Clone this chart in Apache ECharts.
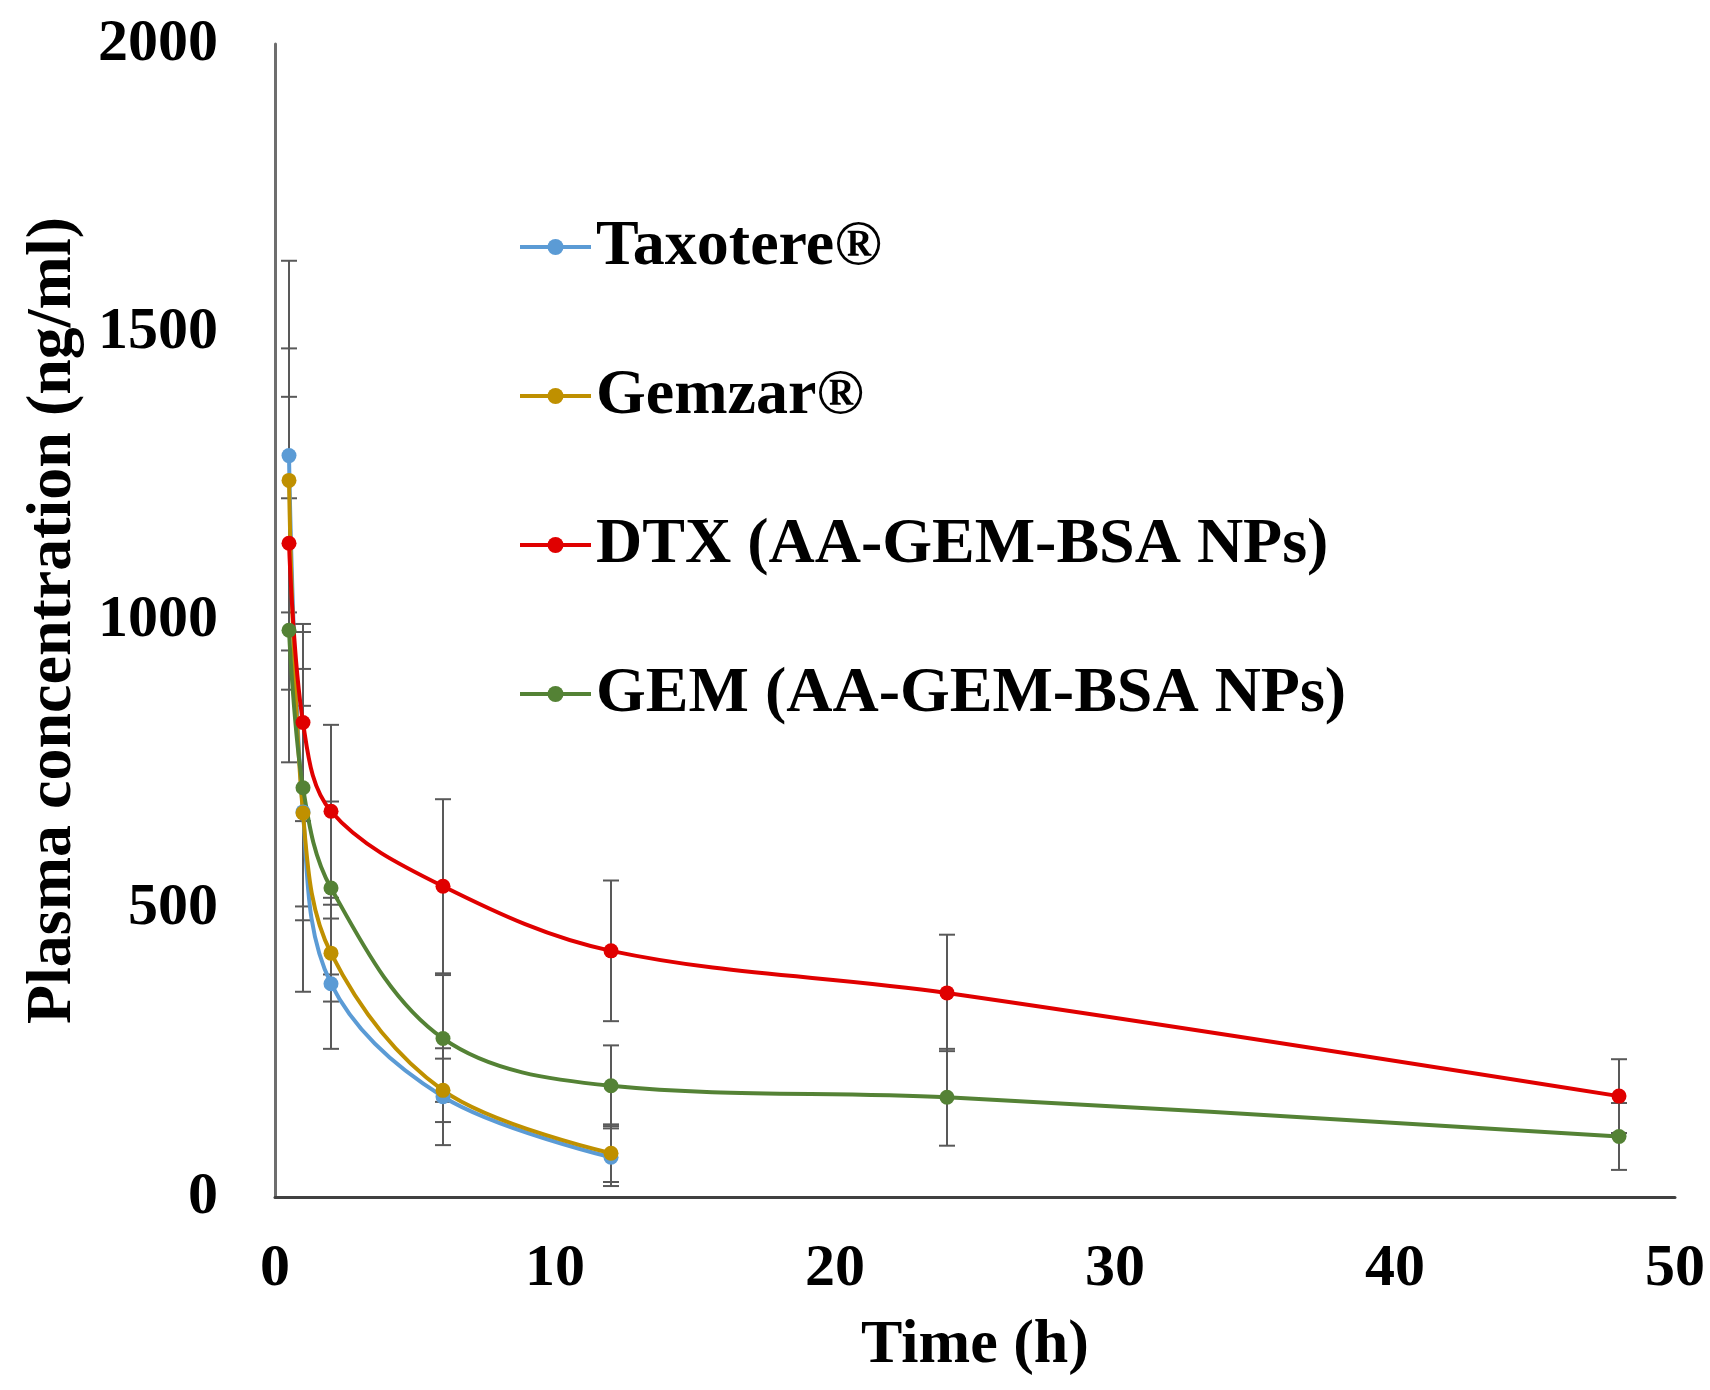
<!DOCTYPE html>
<html>
<head>
<meta charset="utf-8">
<script src="https://cdn.jsdelivr.net/npm/echarts@6/dist/echarts.min.js"></script>
<style>
html,body{margin:0;padding:0;background:#fff;}
#chart{width:1710px;height:1390px;}
</style>
</head>
<body>
<div id="chart"></div>
<script>
// ---- data ----
const seriesNames = ['Taxotere®', 'Gemzar®', 'DTX (AA-GEM-BSA NPs)', 'GEM (AA-GEM-BSA NPs)'];
const timesShort = [0.5, 1, 2, 6, 12];
const timesLong = [0.5, 1, 2, 6, 12, 24, 48];
const taxotere = [1286, 668, 370, 174, 69];
const taxotereSD = [338, 312, 113, 84, 50];
const gemzar = [1243, 666, 423, 185, 76];
const gemzarSD = [229, 186, 84, 55, 50];
const dtx = [1134, 823, 669, 539, 427, 354, 175];
const dtxSD = [254, 171, 150, 151, 122, 101, 64];
const gem = [983, 710, 536, 275, 193, 173, 105];
const gemSD = [229, 206, 150, 110, 70, 84, 58];
const xTicks = [0, 10, 20, 30, 40, 50];
const yTicks = [0, 500, 1000, 1500, 2000];

const colors = ['#5B9BD5', '#BF9000', '#E00000', '#548235'];
const FONT = '"Liberation Serif", "Times New Roman", serif';

function pairs(xs, ys) { return xs.map((x, i) => [x, ys[i]]); }
function errData(xs, ys, sds) { return xs.map((x, i) => [x, ys[i] - sds[i], ys[i] + sds[i]]); }

function errorBarSeries(data) {
  return {
    type: 'custom',
    silent: true,
    z: 1,
    data: data,
    encode: { x: 0, y: [1, 2] },
    renderItem: function (params, api) {
      const x = api.value(0);
      const lo = api.coord([x, api.value(1)]);
      const hi = api.coord([x, api.value(2)]);
      const hw = 8;
      const style = { stroke: '#595959', lineWidth: 2 };
      return {
        type: 'group',
        children: [
          { type: 'line', shape: { x1: lo[0], y1: lo[1], x2: hi[0], y2: hi[1] }, style: style },
          { type: 'line', shape: { x1: lo[0] - hw, y1: lo[1], x2: lo[0] + hw, y2: lo[1] }, style: style },
          { type: 'line', shape: { x1: hi[0] - hw, y1: hi[1], x2: hi[0] + hw, y2: hi[1] }, style: style }
        ]
      };
    }
  };
}

function lineSeries(name, data, color) {
  return {
    name: name,
    type: 'line',
    data: data,
    z: 3,
    smooth: 0.35,
    symbol: 'circle',
    symbolSize: 15,
    showAllSymbol: true,
    lineStyle: { color: color, width: 4 },
    itemStyle: { color: color },
    emphasis: { disabled: true }
  };
}

const chart = echarts.init(document.getElementById('chart'), null, { renderer: 'canvas' });
chart.setOption({
  animation: false,
  backgroundColor: '#ffffff',
  grid: { left: 275, right: 35, top: 44, bottom: 193, containLabel: false },
  legend: {
    data: seriesNames,
    orient: 'vertical',
    left: 513,
    top: 210,
    itemGap: 85,
    itemWidth: 71,
    itemHeight: 20,
    lineStyle: { width: 4 },
    textStyle: { fontFamily: FONT, fontWeight: 'bold', fontSize: 64, color: '#000' },
    selectedMode: false
  },
  xAxis: {
    type: 'value',
    min: 0, max: 50, interval: 10,
    name: 'Time (h)',
    nameLocation: 'middle',
    nameGap: 118,
    nameTextStyle: { fontFamily: FONT, fontWeight: 'bold', fontSize: 62, color: '#000' },
    axisLine: { lineStyle: { color: '#404040', width: 3 } },
    axisTick: { show: false },
    splitLine: { show: false },
    axisLabel: {
      fontFamily: FONT, fontWeight: 'bold', fontSize: 60, color: '#000', margin: 42,
      formatter: v => xTicks.indexOf(v) >= 0 ? String(v) : ''
    }
  },
  yAxis: {
    type: 'value',
    min: 0, max: 2000, interval: 500,
    name: 'Plasma concentration (ng/ml)',
    nameLocation: 'middle',
    nameGap: 190,
    nameTextStyle: { fontFamily: FONT, fontWeight: 'bold', fontSize: 64, color: '#000' },
    axisLine: { show: true, lineStyle: { color: '#6e6e6e', width: 3 } },
    axisTick: { show: false },
    splitLine: { show: false },
    axisLabel: {
      fontFamily: FONT, fontWeight: 'bold', fontSize: 60, color: '#000', margin: 57,
      formatter: v => yTicks.indexOf(v) >= 0 ? String(v) : ''
    }
  },
  series: [
    errorBarSeries(errData(timesShort, taxotere, taxotereSD)),
    errorBarSeries(errData(timesShort, gemzar, gemzarSD)),
    errorBarSeries(errData(timesLong, dtx, dtxSD)),
    errorBarSeries(errData(timesLong, gem, gemSD)),
    lineSeries(seriesNames[0], pairs(timesShort, taxotere), colors[0]),
    lineSeries(seriesNames[1], pairs(timesShort, gemzar), colors[1]),
    lineSeries(seriesNames[2], pairs(timesLong, dtx), colors[2]),
    lineSeries(seriesNames[3], pairs(timesLong, gem), colors[3])
  ]
});
</script>
</body>
</html>
